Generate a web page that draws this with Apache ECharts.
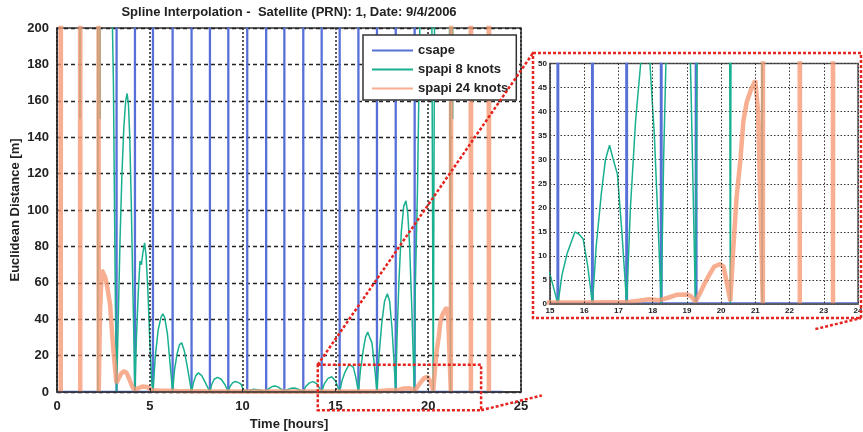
<!DOCTYPE html>
<html><head><meta charset="utf-8">
<script src="https://cdn.jsdelivr.net/npm/echarts/dist/echarts.min.js"></script>
<style>html,body{margin:0;padding:0;background:#fff}#c{width:863px;height:432px}</style>
</head><body><div id="c"></div>
<script>
// ---- data (time [hours], Euclidean distance [m]) ----
const seriesNames = ['csape', 'spapi 8 knots', 'spapi 24 knots'];

const csape = [
  [0,0.2],
  [3.19,0.2],[3.21,3000],[3.23,0.2],
  [4.18,0.2],[4.2,3000],[4.22,0.2],
  [5.15,0.2],[5.17,3000],[5.19,0.2],
  [6.21,0.2],[6.23,3000],[6.25,0.2],
  [7.23,0.2],[7.25,3000],[7.27,0.2],
  [8.22,0.2],[8.24,3000],[8.26,0.2],
  [9.21,0.2],[9.23,3000],[9.25,0.2],
  [10.23,0.2],[10.25,3000],[10.27,0.2],
  [11.25,0.2],[11.27,3000],[11.29,0.2],
  [12.23,0.2],[12.25,3000],[12.27,0.2],
  [13.25,0.2],[13.27,3000],[13.29,0.2],
  [14.24,0.2],[14.26,3000],[14.28,0.2],
  [15.21,0.2],[15.23,3000],[15.25,0.2],
  [16.22,0.2],[16.24,3000],[16.26,0.2],
  [17.22,0.2],[17.24,3000],[17.26,0.2],
  [18.23,0.2],[18.25,3000],[18.27,0.2],
  [19.25,0.2],[19.27,3000],[19.29,0.2],
  [24,0.2]
];

const spapi8 = [
  [0,2000],[1.22,2000],[1.24,150],[1.26,2000],
  [2.17,2000],[2.2,0],[2.23,2000],[2.29,2000],[2.32,150],[2.35,2000],
  [2.92,2000],[2.98,205],[3.04,170],[3.1,100],[3.15,45],[3.21,0],
  [3.3,40],[3.4,85],[3.5,120],[3.6,145],[3.7,160],[3.78,164],[3.85,158],[3.92,140],[4.0,105],[4.08,60],[4.15,25],[4.2,0],
  [4.28,30],[4.38,55],[4.47,72],[4.55,70],[4.62,76],[4.72,82],[4.8,75],[4.9,55],[5.0,28],[5.1,6],[5.17,0],
  [5.3,20],[5.45,34],[5.6,41],[5.7,43],[5.8,41],[5.95,32],[6.08,17],[6.23,0],
  [6.33,12],[6.47,21],[6.6,26],[6.72,27],[6.85,23],[7.02,14],[7.25,0],
  [7.35,5],[7.48,9],[7.62,10.5],[7.8,9],[8.0,5],[8.24,0],
  [8.33,4],[8.47,7],[8.65,8],[8.85,7],[9.05,4],[9.23,0],
  [9.32,3],[9.46,5],[9.6,5.8],[9.75,5.3],[9.9,4.5],[10.05,1],[10.25,0.5],
  [10.4,1],[10.6,1.5],[10.8,1.3],[11.0,1],[11.27,0],
  [11.4,1.8],[11.6,3],[11.75,3.3],[11.9,2.8],[12.1,1.5],[12.25,0],
  [12.4,1.2],[12.6,2],[12.8,2.2],[13.0,1.5],[13.27,0],
  [13.4,3],[13.6,5],[13.8,5.7],[14.0,4.5],[14.15,2],[14.26,0],
  [14.4,4.5],[14.6,7.5],[14.8,8.4],[15.0,6.2],[15.12,3],[15.23,0],
  [15.35,6],[15.5,10.5],[15.73,15],[15.85,14.5],[15.97,13.5],[16.1,8],[16.24,0],
  [16.35,12],[16.5,23],[16.62,30],[16.74,33],[16.85,30],[16.97,27],[17.1,15],[17.24,0],
  [17.35,20],[17.5,38],[17.65,50],[17.8,54],[17.92,50],[18.05,35],[18.15,18],[18.25,0],
  [18.32,30],[18.42,60],[18.55,88],[18.68,102],[18.8,105],[18.9,98],[19.0,80],[19.12,45],[19.25,0],
  [19.3,55],[19.42,110],[19.52,180],[19.6,240],[19.7,400],[20.1,400],[20.2,200],[20.27,0],[20.34,200],[20.45,400],
  [21.1,400],[21.2,0],[21.25,2000],[21.29,2000],[21.32,150],[21.35,2000],[24,2000]
];

const spapi24 = [
  [0,2000],[0.12,2000],[0.2,0],[0.28,2000],
  [1.17,2000],[1.25,0],[1.33,2000],
  [2.15,2000],[2.25,0],[2.32,45],[2.41,67],[2.5,66],[2.6,63],[2.72,57],[2.86,48],[2.95,35],[3.03,24],[3.12,14],[3.2,5],
  [3.3,6],[3.45,10],[3.6,11.5],[3.75,10.5],[3.9,7],[4.05,3],[4.2,1],
  [4.4,2.2],[4.6,3],[4.85,2.8],[5.1,1],
  [5.5,0.8],[6.5,0.5],[8,0.4],[10,0.3],[12,0.3],[14,0.3],[16,0.3],
  [17.3,0.4],[17.6,0.7],[17.9,1],[18.2,0.8],[18.45,1.3],[18.7,1.9],[19.0,2],[19.12,1.6],[19.25,0.5],
  [19.38,2.2],[19.5,4],[19.65,6],[19.8,7.8],[19.97,8.3],[20.07,7.8],[20.15,5],[20.27,0.6],
  [20.36,12],[20.45,22],[20.57,30.5],[20.65,38],[20.75,42],[20.87,44.5],[21.0,46.5],[21.08,40],[21.15,20],[21.22,0],[21.38,2000],
  [22.2,2000],[22.3,0],[22.4,2000],[23.17,2000],[23.27,0],[23.37,2000],[24,2000]
];

const seriesData = [csape, spapi8, spapi24];
const seriesColors = ['#5670d8', '#19b08f', '#f59a76'];
const seriesWidths = [1.6, 1.5, 4.5];
const seriesOpacity = [1, 1, 0.8];

const FONT = "'Liberation Sans', Arial, sans-serif";
const chart = echarts.init(document.getElementById('c'), null, {renderer: 'canvas'});

function mkSeries(gi) {
  return seriesNames.map((n, i) => ({
    name: n, type: 'line', xAxisIndex: gi, yAxisIndex: gi,
    data: seriesData[i], symbol: 'none', showSymbol: false, clip: true,
    lineStyle: {color: seriesColors[i], width: seriesWidths[i], opacity: seriesOpacity[i]},
    itemStyle: {color: seriesColors[i], opacity: 0},
    emphasis: {disabled: true}, animation: false, z: 2 + i
  }));
}

const labelBold = {fontFamily: FONT, fontWeight: 'bold', color: '#222'};

chart.setOption({
  animation: false,
  backgroundColor: '#fff',
  title: {
    text: 'Spline Interpolation -  Satellite (PRN): 1, Date: 9/4/2006',
    left: 289, top: 6, textAlign: 'center', padding: 0,
    textStyle: {fontFamily: FONT, fontSize: 13, fontWeight: 'bold', color: '#222'}
  },
  legend: {
    data: seriesNames, orient: 'vertical', left: 363, top: 35,
    itemWidth: 41, itemHeight: 12, itemGap: 6,
    padding: [9, 8, 5, 8],
    itemStyle: {opacity: 0},
    backgroundColor: '#fff', borderColor: '#333', borderWidth: 1.5,
    textStyle: {fontFamily: FONT, fontSize: 13, fontWeight: 'bold', color: '#222'},
    selectedMode: false, z: 8
  },
  grid: [
    {left: 57, top: 28, width: 464, height: 364, show: true, borderColor: '#333', borderWidth: 1.5, backgroundColor: '#fff', containLabel: false, outerBoundsMode: 'none'},
    {left: 550, top: 63.5, width: 308, height: 240.5, show: true, borderColor: '#555', borderWidth: 1.5, backgroundColor: '#fff', containLabel: false, outerBoundsMode: 'none'}
  ],
  xAxis: [
    {type: 'value', gridIndex: 0, min: 0, max: 25, interval: 5, z: 5,
     name: 'Time [hours]', nameLocation: 'middle', nameGap: 25,
     nameTextStyle: Object.assign({fontSize: 13}, labelBold),
     axisLine: {show: true, onZero: false, lineStyle: {color: '#333', width: 1.5}},
     axisTick: {show: true, inside: true, length: 4, lineStyle: {color: '#333'}},
     axisLabel: Object.assign({fontSize: 13, margin: 8, showMinLabel: true, showMaxLabel: true}, labelBold),
     splitLine: {show: true, lineStyle: {color: '#222', type: [2, 2], width: 1.5}}},
    {type: 'value', gridIndex: 1, min: 15, max: 24, interval: 1, z: 5,
     axisLine: {show: true, onZero: false, lineStyle: {color: '#555', width: 1.5}},
     axisTick: {show: false},
     axisLabel: Object.assign({fontSize: 8, margin: 3, showMinLabel: true, showMaxLabel: true}, labelBold),
     splitLine: {show: true, lineStyle: {color: '#333', type: [1.5, 2], width: 1}}}
  ],
  yAxis: [
    {type: 'value', gridIndex: 0, min: 0, max: 200, interval: 20,
     name: 'Euclidean Distance [m]', nameLocation: 'middle', nameGap: 35, nameRotate: 90, nameMoveOverlap: false,
     nameTextStyle: Object.assign({fontSize: 13}, labelBold),
     axisLine: {show: true, onZero: false, lineStyle: {color: '#333', width: 1.5}},
     axisTick: {show: true, inside: true, length: 4, lineStyle: {color: '#333'}},
     axisLabel: Object.assign({fontSize: 13, margin: 8, showMinLabel: true, showMaxLabel: true}, labelBold),
     splitLine: {show: true, lineStyle: {color: '#222', type: [4, 3], width: 1.3}}},
    {type: 'value', gridIndex: 1, min: 0, max: 50, interval: 5,
     axisLine: {show: true, onZero: false, lineStyle: {color: '#555', width: 1.5}},
     axisTick: {show: false},
     axisLabel: Object.assign({fontSize: 8, margin: 3, showMinLabel: true, showMaxLabel: true}, labelBold),
     splitLine: {show: true, lineStyle: {color: '#333', type: [1.5, 2], width: 1}}}
  ],
  series: mkSeries(0).concat(mkSeries(1))
});

// ---- zoom annotation (red dashed box, inset frame, connectors) ----
const tl = chart.convertToPixel({gridIndex: 0}, [14.05, 15]);
const br = chart.convertToPixel({gridIndex: 0}, [22.85, -10]);
const frame = {x1: 533, y1: 53, x2: 861, y2: 318};
const red = {stroke: '#e62420', lineWidth: 2.5, lineDash: [3, 2], fill: null};
function lerp(a, b, t) { return [a[0] + (b[0] - a[0]) * t, a[1] + (b[1] - a[1]) * t]; }
const pBR = [frame.x2, frame.y2];
const s1 = lerp(br, pBR, 0.16), s2 = lerp(br, pBR, 0.88);
chart.setOption({
  graphic: [
    {type: 'rect', z: 100, silent: true, shape: {x: tl[0], y: tl[1], width: br[0] - tl[0], height: br[1] - tl[1]}, style: red},
    {type: 'rect', z: 100, silent: true, shape: {x: frame.x1, y: frame.y1, width: frame.x2 - frame.x1, height: frame.y2 - frame.y1}, style: red},
    {type: 'line', z: 100, silent: true, shape: {x1: tl[0], y1: tl[1], x2: frame.x1, y2: frame.y1}, style: red},
    {type: 'line', z: 100, silent: true, shape: {x1: br[0], y1: br[1], x2: s1[0], y2: s1[1]}, style: red},
    {type: 'line', z: 100, silent: true, shape: {x1: s2[0], y1: s2[1], x2: pBR[0], y2: pBR[1]}, style: red}
  ]
});
</script></body></html>
